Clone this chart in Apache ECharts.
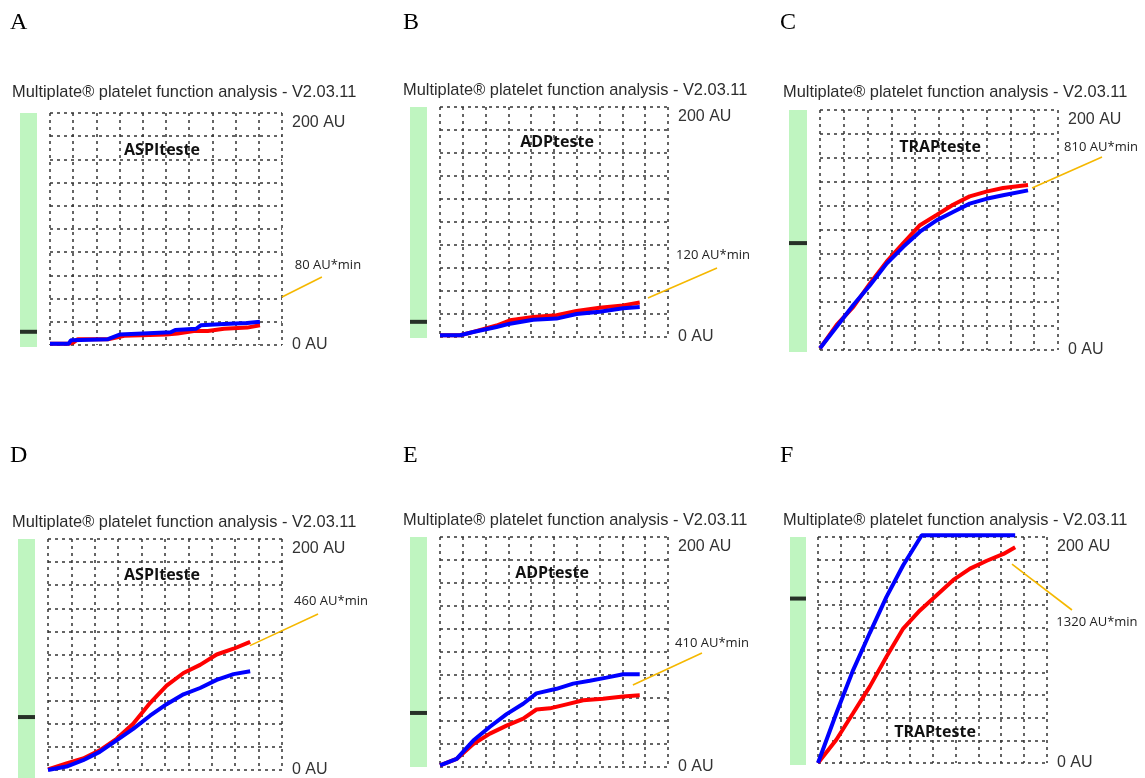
<!DOCTYPE html>
<html>
<head>
<meta charset="utf-8">
<script src="https://cdn.jsdelivr.net/npm/echarts@6/dist/echarts.min.js"></script>
<style>
html,body{margin:0;padding:0;background:#fff;}
#chart{width:1145px;height:778px;}
</style>
</head>
<body>
<div id="chart"></div>
<script>
// ---------- DATA ----------
const panelLetters = ['A', 'B', 'C', 'D', 'E', 'F'];
const testNames = ['ASPIteste', 'ADPteste', 'TRAPteste', 'ASPIteste', 'ADPteste', 'TRAPteste'];
const aucLabels = ['80 AU*min', '120 AU*min', '810 AU*min', '460 AU*min', '410 AU*min', '1320 AU*min'];
const headerText = 'Multiplate\u00AE platelet function analysis - V2.03.11';
const yTickLabels = { 0: '0 AU', 200: '200 AU' };
const markerValues = [13, 14, 90, 51, 47, 146];

const aRed = [[0,1],[0.8,1],[1.0,2],[1.2,5],[2.5,5],[3.2,8],[5.0,9],[5.5,10],[6.2,12],[6.8,12],[7.5,14],[8.5,15],[9.05,17]];
const aBlue = [[0,1],[0.8,1],[0.9,4],[2.5,5],[3.0,9],[4.0,10],[5.2,11],[5.4,13],[6.3,14],[6.5,17],[7.5,18],[8.5,19],[9.05,20]];

const bRed = [[0,1.5],[0.88,1.5],[1.46,4.5],[2.48,10],[3.07,14.5],[4.09,17.4],[5.11,19],[5.99,22.6],[7.0,25.5],[8.03,27.5],[8.76,30]];
const bBlue = [[0,1.5],[0.88,1.5],[1.46,4.3],[2.48,8.7],[3.07,11.6],[4.09,15],[5.11,16],[5.99,20],[7.0,22],[8.03,25],[8.76,26]];

const cRed = [[0,1.4],[0.7,21],[1.4,36],[2.1,55.5],[2.8,73.6],[3.5,89],[4.2,104],[4.9,112.5],[5.59,121],[6.29,128],[6.99,132],[7.69,135],[8.74,137.5]];
const cBlue = [[0,1.4],[0.7,19.4],[1.4,37.5],[2.1,54],[2.8,72],[3.5,86],[4.2,98.6],[4.9,108],[5.59,115],[6.29,122],[6.99,126],[7.69,129],[8.74,133]];

const dRed = [[0,0.5],[0.79,5.7],[1.5,10],[2.21,17],[2.93,27],[3.64,40],[4.36,58],[5.07,73],[5.79,84],[6.5,91],[7.21,100],[7.93,105],[8.64,111]];
const dBlue = [[0,0],[0.79,3],[1.5,8.5],[2.21,15.7],[2.93,25.6],[3.64,35.6],[4.36,47],[5.07,57],[5.79,65.5],[6.5,71],[7.21,78],[7.93,83],[8.64,85.5]];

const eRed = [[0,1.4],[0.73,7],[1.46,20],[2.19,29],[2.92,36],[3.65,42],[4.23,50],[4.82,51],[5.55,54.5],[6.28,58],[7.15,59.4],[8.03,61.4],[8.76,62.3]];
const eBlue = [[0,1.4],[0.73,7],[1.46,23],[2.19,35],[2.92,46],[3.65,55],[4.23,64],[5.11,68],[5.84,72.5],[6.57,75],[7.3,77.7],[8.03,80.6],[8.76,80.6]];

const fRed = [[0,0],[0.8,20.6],[1.53,44],[2.26,67.6],[2.99,94],[3.72,119],[4.45,135],[5.18,148.5],[5.91,162],[6.64,172],[7.37,179],[8.1,185],[8.61,191]];
const fBlue = [[0,0],[0.8,44],[1.53,82],[2.26,115],[2.99,147],[3.72,175],[4.53,201.5],[8.61,201.5]];

// leader lines (data coordinates of each panel, extending outside the plot)
const leaderA = [[10.0,41.4],[11.72,58.6]];
const leaderB = [[9.12,33.9],[12.15,60]];
const leaderC = [[8.91,135],[11.85,160.8]];
const leaderD = [[8.63,107.7],[11.54,135]];
const leaderE = [[8.46,71.3],[11.49,99.1]];
const leaderF = [[8.47,176],[11.09,135.4]];

const redSeries = [aRed, bRed, cRed, dRed, eRed, fRed];
const blueSeries = [aBlue, bBlue, cBlue, dBlue, eBlue, fBlue];
const leaders = [leaderA, leaderB, leaderC, leaderD, leaderE, leaderF];

// ---------- LAYOUT ----------
const layout = [
  { grid: [50, 113, 232, 232],  bar: [20, 113, 17, 234],  letter: [10, 25],  header: [12, 92],  name: [162, 150], labelDy: -12, labelDx: 6 },
  { grid: [440, 107, 228, 230], bar: [410, 107, 17, 231], letter: [403, 25], header: [403, 90], name: [557, 142], labelDy: -13, labelDx: -4 },
  { grid: [820, 110, 238, 240], bar: [789, 110, 18, 242], letter: [780, 25], header: [783, 92], name: [940, 147], labelDy: -10, labelDx: -1 },
  { grid: [48, 539, 234, 234],  bar: [18, 539, 17, 239],  letter: [10, 458], header: [12, 522], name: [162, 575], labelDy: -13, labelDx: 13 },
  { grid: [440, 537, 228, 230], bar: [410, 537, 17, 230], letter: [403, 458],header: [403, 520],name: [552, 573], labelDy: -10, labelDx: 10 },
  { grid: [818, 537, 229, 226], bar: [790, 537, 16, 228], letter: [780, 458],header: [783, 520],name: [935, 732], labelDy: 12, labelDx: 25 }
];

const grids = [], xAxes = [], yAxes = [], series = [], graphics = [];
const dash = [3, 4];
const gridLine = { color: '#333', width: 1.5, type: dash };
const mainGridIdx = [];

layout.forEach((L, i) => {
  const gi = grids.length;
  mainGridIdx.push(gi);
  grids.push({ left: L.grid[0], top: L.grid[1], width: L.grid[2], height: L.grid[3] });
  xAxes.push({
    gridIndex: gi, type: 'value', min: 0, max: 10, interval: 1,
    axisLine: { show: false }, axisTick: { show: false }, axisLabel: { show: false },
    splitLine: { show: true, showMinLine: true, showMaxLine: true, lineStyle: gridLine }
  });
  yAxes.push({
    gridIndex: gi, type: 'value', min: 0, max: 200, interval: 20, position: 'right',
    axisLine: { show: false }, axisTick: { show: false },
    axisLabel: {
      margin: 10, color: '#333', fontFamily: 'Liberation Sans', fontSize: 16,
      formatter: v => v === 200 ? '{t|' + yTickLabels[200] + '}' : (v === 0 ? yTickLabels[0] : ''),
      rich: { t: { fontFamily: 'Liberation Sans', fontSize: 16, color: '#333', padding: [20, 0, 0, 0] } }
    },
    splitLine: { show: true, showMinLine: true, showMaxLine: true, lineStyle: gridLine }
  });
  series.push({
    type: 'line', xAxisIndex: gi, yAxisIndex: gi, data: redSeries[i], showSymbol: false,
    clip: false, lineStyle: { color: '#ff0000', width: 4 }, z: 3
  });
  series.push({
    type: 'line', xAxisIndex: gi, yAxisIndex: gi, data: blueSeries[i], showSymbol: false,
    clip: false, lineStyle: { color: '#0000ff', width: 4 }, z: 4
  });

  const bi = grids.length;
  grids.push({ left: L.bar[0], top: L.bar[1], width: L.bar[2], height: L.bar[3] });
  xAxes.push({ gridIndex: bi, type: 'category', data: ['bar'], show: false });
  yAxes.push({ gridIndex: bi, type: 'value', min: 0, max: 200, show: false, splitLine: { show: false } });
  series.push({
    type: 'bar', xAxisIndex: bi, yAxisIndex: bi, data: [200], barWidth: '100%',
    itemStyle: { color: '#bff5c0' }, silent: true
  });
  series.push({
    type: 'scatter', xAxisIndex: bi, yAxisIndex: bi, data: [[0, markerValues[i]]],
    symbol: 'rect', symbolSize: [L.bar[2], 4], itemStyle: { color: '#000' }, z: 5
  });

  graphics.push({
    type: 'text', left: L.letter[0], top: L.letter[1] - 14,
    style: { text: panelLetters[i], fontFamily: 'Liberation Serif', fontSize: 24, fill: '#000' }
  });
  graphics.push({
    type: 'text', x: L.header[0], y: L.header[1],
    style: { text: headerText, fontFamily: 'Liberation Sans', fontSize: 16.4, fill: '#2b2b2b', verticalAlign: 'middle' }
  });
  graphics.push({
    type: 'text', x: L.name[0], y: L.name[1],
    style: { text: testNames[i], fontFamily: 'Open Sans', fontWeight: 'bold', fontSize: 16, fill: '#111', align: 'center', verticalAlign: 'middle' }
  });
});

const chart = echarts.init(document.getElementById('chart'), null, { renderer: 'canvas' });
chart.setOption({
  backgroundColor: '#fff',
  animation: false,
  grid: grids,
  xAxis: xAxes,
  yAxis: yAxes,
  series: series
});

// leader lines and AUC labels, positioned through each panel's axes
layout.forEach((L, i) => {
  const gi = mainGridIdx[i];
  const p0 = chart.convertToPixel({ gridIndex: gi }, leaders[i][0]);
  const p1 = chart.convertToPixel({ gridIndex: gi }, leaders[i][1]);
  graphics.push({
    type: 'line', z: 10,
    shape: { x1: p0[0], y1: p0[1], x2: p1[0], y2: p1[1] },
    style: { stroke: '#f5b800', lineWidth: 1.6 }
  });
  graphics.push({
    type: 'text', x: p1[0] + L.labelDx, y: p1[1] + L.labelDy, z: 10,
    style: { text: aucLabels[i], fontFamily: 'Open Sans', fontSize: 13, fill: '#222', align: 'center', verticalAlign: 'middle' }
  });
});
chart.setOption({ graphic: graphics });
</script>
</body>
</html>
